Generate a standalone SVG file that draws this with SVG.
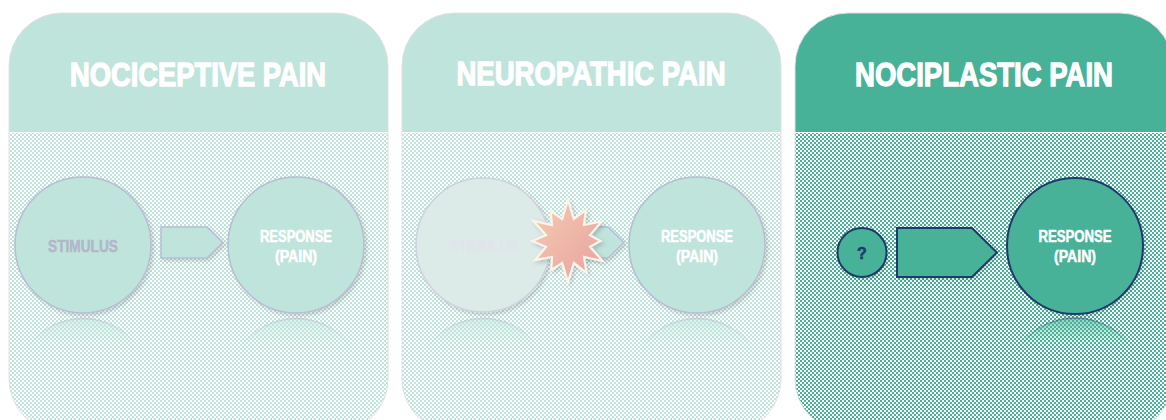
<svg xmlns="http://www.w3.org/2000/svg" width="1166" height="420" viewBox="0 0 1166 420">
<style>
.title{font-family:"Liberation Sans Narrow","Liberation Sans",Arial,sans-serif;font-weight:bold;font-size:33px;fill:#ffffff;stroke:#ffffff;stroke-width:1.3;text-anchor:middle}
.lbl{font-family:"Liberation Sans Narrow","Liberation Sans",Arial,sans-serif;font-weight:bold;font-size:16px;text-anchor:middle;stroke-width:0.5}
.outline{fill:none;stroke:#e0e0e0;stroke-width:1}
</style>
<defs>
<pattern id="chkL" patternUnits="userSpaceOnUse" width="4" height="4">
<rect width="4" height="4" fill="#ffffff"/>
<rect width="2" height="2" fill="#bfe4dc"/>
<rect x="2" y="2" width="2" height="2" fill="#bfe4dc"/>
</pattern>
<pattern id="chkD" patternUnits="userSpaceOnUse" width="4" height="4">
<rect width="4" height="4" fill="#ffffff"/>
<rect width="2" height="2" fill="#47b298"/>
<rect x="2" y="2" width="2" height="2" fill="#47b298"/>
</pattern>
<clipPath id="c1"><rect x="9" y="13" width="379" height="419" rx="53"/></clipPath>
<clipPath id="c2"><rect x="402" y="13" width="379" height="419" rx="53"/></clipPath>
<clipPath id="c3"><rect x="795" y="13" width="378" height="419" rx="53"/></clipPath>
<filter id="sh" x="-20%" y="-20%" width="150%" height="150%">
<feDropShadow dx="2" dy="2" stdDeviation="2" flood-color="#000" flood-opacity="0.18"/>
</filter>
<linearGradient id="refL" x1="0" y1="0" x2="0" y2="1">
<stop offset="0" stop-color="#b8bcd4" stop-opacity="0.55"/>
<stop offset="1" stop-color="#b8bcd4" stop-opacity="0"/>
</linearGradient>
<linearGradient id="refFillL" x1="0" y1="0" x2="0" y2="1">
<stop offset="0" stop-color="#bfe4dc" stop-opacity="0.6"/>
<stop offset="1" stop-color="#bfe4dc" stop-opacity="0"/>
</linearGradient>
<linearGradient id="refD" x1="0" y1="0" x2="0" y2="1">
<stop offset="0" stop-color="#1f3a6b" stop-opacity="0.45"/>
<stop offset="1" stop-color="#1f3a6b" stop-opacity="0"/>
</linearGradient>
<linearGradient id="refFillD" x1="0" y1="0" x2="0" y2="1">
<stop offset="0" stop-color="#47b298" stop-opacity="0.6"/>
<stop offset="1" stop-color="#47b298" stop-opacity="0"/>
</linearGradient>
<linearGradient id="burst" x1="0" y1="0" x2="1" y2="1">
<stop offset="0" stop-color="#f4cdb0"/>
<stop offset="1" stop-color="#e8a0a0"/>
</linearGradient>
</defs>

<!-- Panel 1 -->
<g id="panel-nociceptive">
<g clip-path="url(#c1)">
<rect x="9" y="13" width="379" height="119" fill="#bfe4dc"/>
<rect x="9" y="133" width="379" height="300" fill="url(#chkL)"/>
</g>
<rect class="outline" x="9" y="13" width="379" height="419" rx="53"/>
<text class="title" x="198" y="86" textLength="256" lengthAdjust="spacingAndGlyphs">NOCICEPTIVE PAIN</text>
</g>

<!-- Panel 2 -->
<g id="panel-neuropathic">
<g clip-path="url(#c2)">
<rect x="402" y="13" width="379" height="119" fill="#bfe4dc"/>
<rect x="402" y="133" width="379" height="300" fill="url(#chkL)"/>
</g>
<rect class="outline" x="402" y="13" width="379" height="419" rx="53"/>
<text class="title" x="591" y="85" textLength="269" lengthAdjust="spacingAndGlyphs">NEUROPATHIC PAIN</text>
</g>

<!-- Panel 3 -->
<g id="panel-nociplastic">
<g clip-path="url(#c3)">
<rect x="795" y="13" width="378" height="119" fill="#47b298"/>
<rect x="795" y="133" width="378" height="300" fill="url(#chkD)"/>
</g>
<rect class="outline" x="795" y="13" width="378" height="419" rx="53" stroke="#cccccc"/>
<text class="title" x="984" y="86" textLength="258" lengthAdjust="spacingAndGlyphs">NOCIPLASTIC PAIN</text>
</g>

<!-- reflections -->
<g id="reflections">
<path d="M27,348 A68,68 0 0 1 139,348 Z" fill="url(#refFillL)" stroke="url(#refL)" stroke-width="1.5"/>
<path d="M240,348 A68,68 0 0 1 352,348 Z" fill="url(#refFillL)" stroke="url(#refL)" stroke-width="1.5"/>
<path d="M427,348 A68,68 0 0 1 539,348 Z" fill="url(#refFillL)" stroke="url(#refL)" stroke-width="1.5"/>
<path d="M641,348 A68,68 0 0 1 753,348 Z" fill="url(#refFillL)" stroke="url(#refL)" stroke-width="1.5"/>
<path d="M1018,348 A69,69 0 0 1 1132,348 Z" fill="url(#refFillD)" stroke="url(#refD)" stroke-width="1.5"/>
</g>

<!-- connectors -->
<g id="connectors">
<path d="M161,227 H207 L223,242.5 L207,258 H161 Z" fill="#bfe4dc" stroke="#b8bcd4" stroke-width="1.5" filter="url(#sh)"/>
<path d="M560,227 H608 L624,242.5 L608,258 H560 Z" fill="#bfe4dc" stroke="#b8bcd4" stroke-width="1.5" filter="url(#sh)"/>
<path d="M897,228 H972 L997,252.5 L972,277 H897 Z" fill="#47b298" stroke="#1f3a6b" stroke-width="2" filter="url(#sh)"/>
</g>

<!-- nodes panel 1 -->
<g id="stimulus-1">
<circle cx="83" cy="245" r="68" fill="#bfe4dc" stroke="#b8bcd4" stroke-width="1.5" filter="url(#sh)"/>
<text class="lbl" x="83" y="252" fill="#b3b6c9" stroke="#b3b6c9" textLength="70" lengthAdjust="spacingAndGlyphs">STIMULUS</text>
</g>
<g id="response-1">
<circle cx="296" cy="245" r="68" fill="#bfe4dc" stroke="#b8bcd4" stroke-width="1.5" filter="url(#sh)"/>
<text class="lbl" x="296" y="242" fill="#ffffff" stroke="#ffffff" textLength="72" lengthAdjust="spacingAndGlyphs">RESPONSE</text>
<text class="lbl" x="296" y="262" fill="#ffffff" stroke="#ffffff" textLength="42" lengthAdjust="spacingAndGlyphs">(PAIN)</text>
</g>

<!-- nodes panel 2 -->
<g id="stimulus-2">
<circle cx="483" cy="245" r="67" fill="#dcebe8" stroke="#cdd2de" stroke-width="1.5" filter="url(#sh)"/>
<text class="lbl" x="484" y="252" fill="#e2e4ec" stroke="#e2e4ec" textLength="70" lengthAdjust="spacingAndGlyphs">STIMULUS</text>
</g>
<g id="burst-2">
<polygon transform="translate(568 241) scale(1.08) translate(-568 -241)" points="568,203 573.4,220.7 584.5,212.4 582.8,226.2 599.2,223 588.3,235.6 598,241 588.3,246.4 600,259.5 582.8,255.8 585,270.4 573.4,261.3 568,279 562.6,261.3 552.5,267.8 553.2,255.8 537.7,258.5 547.7,246.4 535,241 547.7,235.6 536,222.5 553.2,226.2 552,213.3 562.6,220.7" fill="url(#burst)" stroke="#fdf3ea" stroke-width="2" stroke-linejoin="miter" filter="url(#sh)"/>
</g>
<g id="response-2">
<circle cx="697" cy="245" r="68" fill="#bfe4dc" stroke="#b8bcd4" stroke-width="1.5" filter="url(#sh)"/>
<text class="lbl" x="697" y="242" fill="#ffffff" stroke="#ffffff" textLength="72" lengthAdjust="spacingAndGlyphs">RESPONSE</text>
<text class="lbl" x="697" y="262" fill="#ffffff" stroke="#ffffff" textLength="42" lengthAdjust="spacingAndGlyphs">(PAIN)</text>
</g>

<!-- nodes panel 3 -->
<g id="unknown-3">
<circle cx="862" cy="252.5" r="24.5" fill="#47b298" stroke="#1f3a6b" stroke-width="2" filter="url(#sh)"/>
<text class="lbl" x="862" y="259" fill="#1f3a6b" stroke="#1f3a6b">?</text>
</g>
<g id="response-3">
<circle cx="1075" cy="246" r="68" fill="#47b298" stroke="#1f3a6b" stroke-width="2" filter="url(#sh)"/>
<text class="lbl" x="1075" y="242" fill="#ffffff" stroke="#ffffff" textLength="73" lengthAdjust="spacingAndGlyphs">RESPONSE</text>
<text class="lbl" x="1075" y="262" fill="#ffffff" stroke="#ffffff" textLength="42" lengthAdjust="spacingAndGlyphs">(PAIN)</text>
</g>
</svg>
